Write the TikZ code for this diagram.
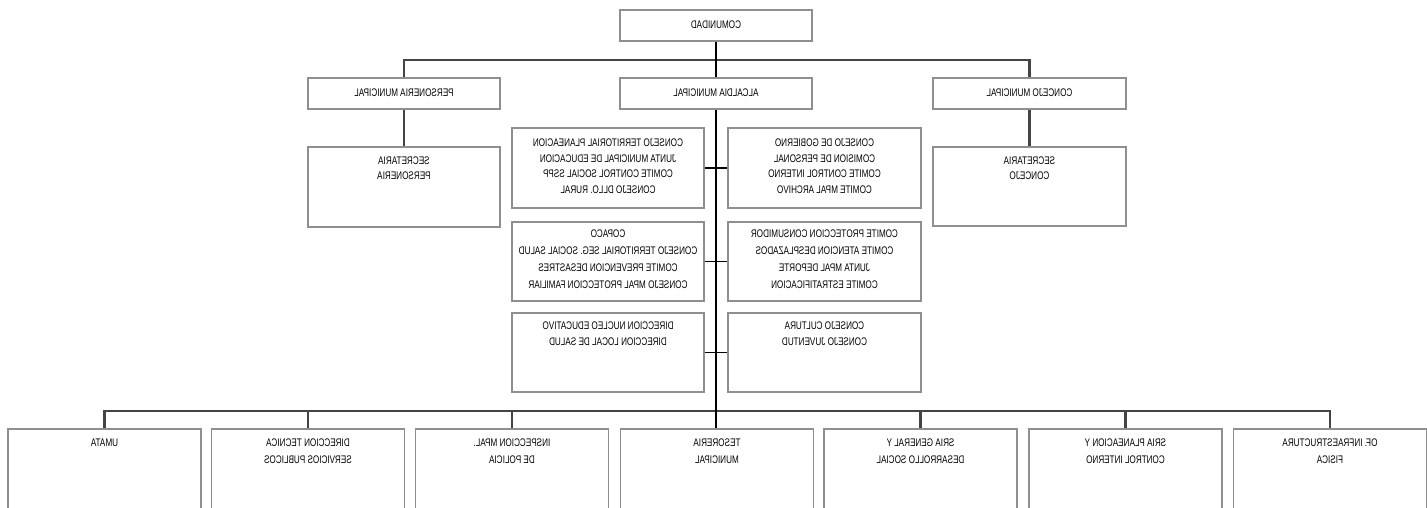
\documentclass[tikz,border=0pt]{standalone}
\usepackage{fontspec}
\setmainfont{Liberation Sans}
\usepackage{graphicx}
\newcommand{\mir}[2][15]{\scalebox{-0.74}[1]{\fontsize{11}{#1}\selectfont\begin{tabular}{@{}c@{}}#2\end{tabular}}}
\definecolor{boxgray}{HTML}{8F8F8F}
\definecolor{busgray}{HTML}{444444}
\tikzset{
 box/.style={draw=boxgray, line width=1.3pt, fill=white, rectangle, inner sep=0pt, minimum width=192pt},
 txt/.style={inner sep=0pt, anchor=north, text=black},
 bus/.style={draw=busgray, line width=2.4pt},
 vline/.style={draw=black, line width=1.5pt},
 stub/.style={draw=black, line width=1.1pt}
}
\begin{document}
\begin{tikzpicture}[x=1pt,y=-1pt]
\useasboundingbox (0,0) rectangle (1427,507);
\clip (0,0) rectangle (1427,507);
\fill[white] (0,0) rectangle (1427,507);
% top level
\node[box, minimum height=31pt] (com) at (716,25.5) {\mir{COMUNIDAD}};
\node[box, minimum height=31pt] (alc) at (716,93.5) {\mir{ALCALDIA MUNICIPAL}};
\node[box, minimum height=31pt] (per) at (404,93.5) {\mir{PERSONERIA MUNICIPAL}};
\node[box, minimum height=31pt, minimum width=193pt] (con) at (1029.5,93.5) {\mir{CONCEJO MUNICIPAL}};
\node[box, minimum height=80pt] (sper) at (404,187) {};
\node[box, minimum height=79pt, minimum width=193pt] (scon) at (1029.5,186.5) {};
\node[txt] (tsper) at ([yshift=-7.5pt]sper.north) {\mir{SECRETARIA\\PERSONERIA}};
\node[txt] (tscon) at ([yshift=-7.5pt]scon.north) {\mir{SECRETARIA\\CONCEJO}};
% center boxes
\node[box, minimum height=80pt] (l1) at (608,168) {};
\node[box, minimum height=80pt, minimum width=193pt] (r1) at (824.5,168) {};
\node[box, minimum height=79pt] (l2) at (608,261.5) {};
\node[box, minimum height=79pt, minimum width=193pt] (r2) at (824.5,261.5) {};
\node[box, minimum height=79pt] (l3) at (608,352.5) {};
\node[box, minimum height=79pt, minimum width=193pt] (r3) at (824.5,352.5) {};
\node[txt] (tl1) at ([yshift=-8.2pt]l1.north) {\mir[15.5]{CONSEJO TERRITORIAL PLANEACION\\JUNTA MUNICIPAL DE EDUCACION\\COMITE CONTROL SOCIAL SSPP\\CONSEJO DLLO. RURAL}};
\node[txt] (tr1) at ([yshift=-8.2pt]r1.north) {\mir[15.5]{CONSEJO DE GOBIERNO\\COMISION DE PERSONAL\\COMITE CONTROL INTERNO\\COMITE MPAL ARCHIVO}};
\node[txt] (tl2) at ([yshift=-3.8pt]l2.north) {\mir[17]{COPACO\\CONSEJO TERRITORIAL SEG. SOCIAL SALUD\\COMITE PREVENCION DESASTRES\\CONSEJO MPAL PROTECCION FAMILIAR}};
\node[txt] (tr2) at ([yshift=-3.8pt]r2.north) {\mir[17]{COMITE PROTECCION CONSUMIDOR\\COMITE ATENCION DESPLAZADOS\\JUNTA MPAL DEPORTE\\COMITE ESTRATIFICACION}};
\node[txt] (tl3) at ([yshift=-6pt]l3.north) {\mir[16]{DIRECCION NUCLEO EDUCATIVO\\DIRECCION LOCAL DE SALUD}};
\node[txt] (tr3) at ([yshift=-6pt]r3.north) {\mir[16]{CONSEJO CULTURA\\CONSEJO JUVENTUD}};
% bottom row
\node[box, minimum height=100pt, minimum width=193pt] (b1) at (104.5,479) {};
\node[box, minimum height=100pt, minimum width=193pt] (b2) at (308,479) {};
\node[box, minimum height=100pt, minimum width=193pt] (b3) at (512,479) {};
\node[box, minimum height=100pt, minimum width=193pt] (b4) at (717,479) {};
\node[box, minimum height=100pt, minimum width=193pt] (b5) at (920.5,479) {};
\node[box, minimum height=100pt, minimum width=193pt] (b6) at (1125.5,479) {};
\node[box, minimum height=100pt, minimum width=193pt] (b7) at (1330,479) {};
\node[txt] (tb1) at ([yshift=-6.2pt]b1.north) {\mir[17]{UMATA}};
\node[txt] (tb2) at ([yshift=-6.2pt]b2.north) {\mir[17]{DIRECCION TECNICA\\SERVICIOS PUBLICOS}};
\node[txt] (tb3) at ([yshift=-6.2pt]b3.north) {\mir[17]{INSPECCION MPAL.\\DE POLICIA}};
\node[txt] (tb4) at ([yshift=-6.2pt]b4.north) {\mir[17]{TESORERIA\\MUNICIPAL}};
\node[txt] (tb5) at ([yshift=-6.2pt]b5.north) {\mir[17]{SRIA GENERAL Y\\DESARROLLO SOCIAL}};
\node[txt] (tb6) at ([yshift=-6.2pt]b6.north) {\mir[17]{SRIA PLANEACION Y\\CONTROL INTERNO}};
\node[txt] (tb7) at ([yshift=-6.2pt]b7.north) {\mir[17]{OF. INFRAESTRUCTURA\\FISICA}};
% connectors
\coordinate (topbus) at (716,60);
\coordinate (botbus) at (716,411);
\draw[bus] (per.north) |- (topbus) -| (con.north);
\draw[vline] (com.south) -- (alc.north);
\draw[bus] (per.south) -- (sper.north);
\draw[bus] (con.south) -- (scon.north);
\draw[bus] (b1.north) |- (botbus) -| (b7.north);
\draw[bus] (b2.north) -- (b2.north |- botbus);
\draw[bus] (b3.north) -- (b3.north |- botbus);
\draw[bus] (b5.north) -- (b5.north |- botbus);
\draw[bus] (b6.north) -- (b6.north |- botbus);
\draw[stub] (l1.east) -- (r1.west);
\draw[stub] (l2.east) -- (r2.west);
\draw[stub] (l3.east) -- (r3.west);
\draw[vline] (alc.south) -- (alc.south |- b4.north);
\end{tikzpicture}
\end{document}
